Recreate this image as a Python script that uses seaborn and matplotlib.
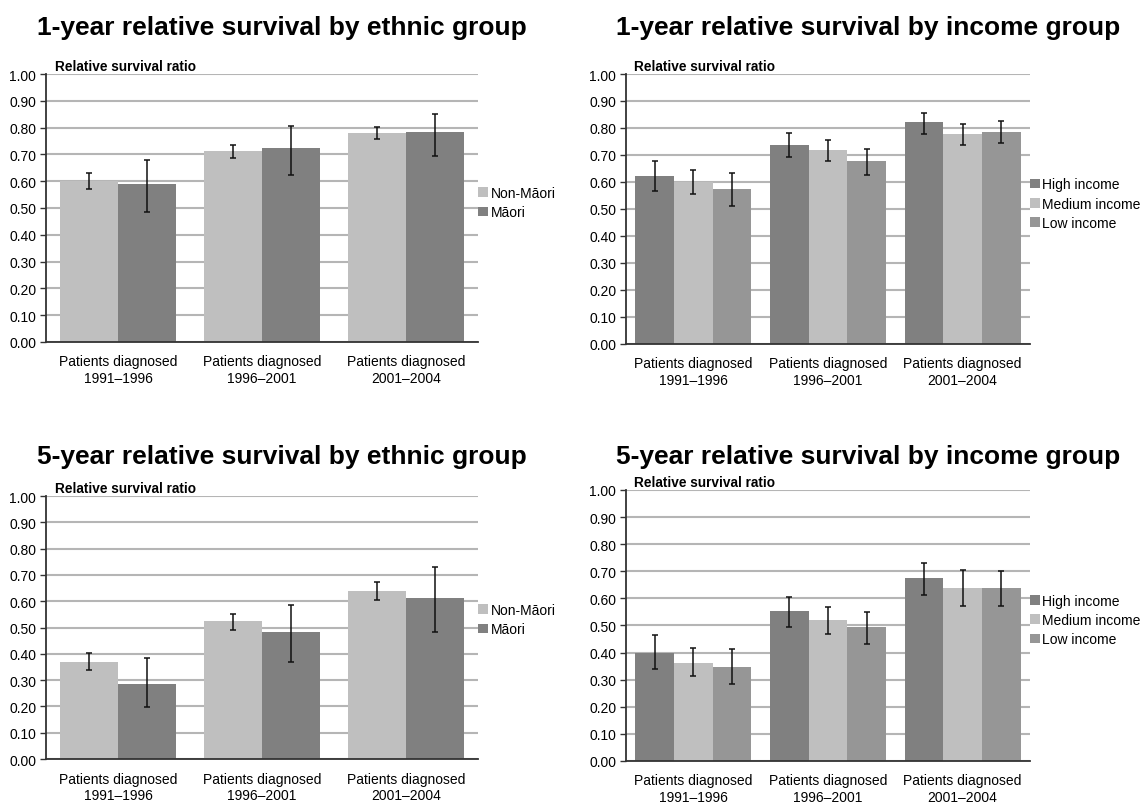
import matplotlib
matplotlib.use("Agg")
import matplotlib.pyplot as plt
import numpy as np
import pandas as pd
import seaborn as sns

# Diagnosis periods shown on the x axis
periods = ["Patients diagnosed\n1991–1996",
           "Patients diagnosed\n1996–2001",
           "Patients diagnosed\n2001–2004"]

# Ethnic groups
eth_groups = ["Non-Māori", "Māori"]
# Income groups
inc_groups = ["High income", "Medium income", "Low income"]

# 1-year relative survival by ethnic group (ratio, lower / upper 95% CI)
eth1_nonmaori = [0.600, 0.712, 0.781]
eth1_nonmaori_lo = [0.570, 0.687, 0.757]
eth1_nonmaori_hi = [0.630, 0.736, 0.801]
eth1_maori = [0.590, 0.724, 0.784]
eth1_maori_lo = [0.484, 0.623, 0.693]
eth1_maori_hi = [0.678, 0.805, 0.850]

# 1-year relative survival by income group
inc1_high = [0.623, 0.737, 0.822]
inc1_high_lo = [0.565, 0.693, 0.779]
inc1_high_hi = [0.677, 0.780, 0.857]
inc1_medium = [0.600, 0.718, 0.778]
inc1_medium_lo = [0.554, 0.677, 0.737]
inc1_medium_hi = [0.644, 0.755, 0.816]
inc1_low = [0.575, 0.678, 0.785]
inc1_low_lo = [0.510, 0.625, 0.744]
inc1_low_hi = [0.633, 0.724, 0.825]

# 5-year relative survival by ethnic group
eth5_nonmaori = [0.370, 0.523, 0.638]
eth5_nonmaori_lo = [0.339, 0.492, 0.603]
eth5_nonmaori_hi = [0.403, 0.552, 0.673]
eth5_maori = [0.287, 0.482, 0.612]
eth5_maori_lo = [0.196, 0.370, 0.482]
eth5_maori_hi = [0.383, 0.585, 0.729]

# 5-year relative survival by income group
inc5_high = [0.400, 0.552, 0.674]
inc5_high_lo = [0.339, 0.495, 0.611]
inc5_high_hi = [0.464, 0.604, 0.732]
inc5_medium = [0.363, 0.519, 0.637]
inc5_medium_lo = [0.314, 0.469, 0.570]
inc5_medium_hi = [0.416, 0.569, 0.704]
inc5_low = [0.348, 0.493, 0.637]
inc5_low_lo = [0.284, 0.432, 0.570]
inc5_low_hi = [0.412, 0.551, 0.700]

y_ticks = [0.0, 0.1, 0.2, 0.3, 0.4, 0.5, 0.6, 0.7, 0.8, 0.9, 1.0]

eth_colors = ["#bfbfbf", "#808080"]
inc_colors = ["#808080", "#bfbfbf", "#969696"]

sns.set_style("white")
plt.rcParams["font.family"] = ["Liberation Sans", "DejaVu Sans"]
plt.rcParams["text.color"] = "black"
plt.rcParams["xtick.color"] = "black"
plt.rcParams["ytick.color"] = "black"

fig = plt.figure(figsize=(11.41, 8.03), dpi=100)


def panel(rect, title, title_x, title_y, groups, colors, series,
          legend_y, bar_width):
    ax = fig.add_axes(rect)
    rows = []
    for g, (vals, lo, hi) in zip(groups, series):
        for p, v in zip(periods, vals):
            rows.append({"period": p, "ratio": v, "group": g})
    df = pd.DataFrame(rows)
    sns.barplot(data=df, x="period", y="ratio", hue="group",
                order=periods, hue_order=groups, palette=colors,
                errorbar=None, width=bar_width, saturation=1, linewidth=0,
                ax=ax)
    # confidence intervals on each bar
    for cont, (vals, lo, hi) in zip(ax.containers, series):
        xs = [b.get_x() + b.get_width() / 2 for b in cont]
        v = np.array(vals)
        err = [v - np.array(lo), np.array(hi) - v]
        ax.errorbar(xs, v, yerr=err, fmt="none", ecolor="#111111",
                    elinewidth=1.1, capsize=2, capthick=1.1, zorder=5)
    ax.set_ylim(0, 1.0)
    ax.set_xlim(-0.5, 2.5)
    ax.set_yticks(y_ticks)
    ax.set_yticklabels([f"{t:.2f}" for t in y_ticks], fontsize=10)
    ax.tick_params(axis="x", length=0, pad=9, labelsize=10)
    ax.tick_params(axis="y", length=4, width=1, color="#333333", pad=3,
                   direction="out", left=True)
    ax.yaxis.grid(True, color="#b5b5b5", linewidth=1.5)
    ax.set_axisbelow(True)
    for s in ["top", "right"]:
        ax.spines[s].set_visible(False)
    for s in ["left", "bottom"]:
        ax.spines[s].set_color("#333333")
        ax.spines[s].set_linewidth(1.3)
    ax.set_xlabel("")
    ax.set_ylabel("")
    ax.text(0.02, 1.004, "Relative survival ratio", transform=ax.transAxes,
            fontsize=9.8, fontweight="bold", ha="left", va="bottom")
    ax.legend(loc="center left", bbox_to_anchor=(1.0, legend_y),
              frameon=False, borderpad=0, borderaxespad=0,
              handlelength=0.7, handleheight=0.7, handletextpad=0.2,
              labelspacing=0.38, fontsize=10)
    fig.text(title_x, title_y, title, ha="center", va="center",
             fontsize=19, fontweight="bold")
    return ax


panel([0.0403, 0.5729, 0.3786, 0.3337],
      "1-year relative survival by ethnic group", 0.247, 0.965,
      eth_groups, eth_colors,
      [(eth1_nonmaori, eth1_nonmaori_lo, eth1_nonmaori_hi),
       (eth1_maori, eth1_maori_lo, eth1_maori_hi)], 0.52, 0.8)

panel([0.5486, 0.5704, 0.3541, 0.3362],
      "1-year relative survival by income group", 0.761, 0.965,
      inc_groups, inc_colors,
      [(inc1_high, inc1_high_lo, inc1_high_hi),
       (inc1_medium, inc1_medium_lo, inc1_medium_hi),
       (inc1_low, inc1_low_lo, inc1_low_hi)], 0.52, 0.86)

panel([0.0403, 0.0535, 0.3786, 0.3275],
      "5-year relative survival by ethnic group", 0.247, 0.431,
      eth_groups, eth_colors,
      [(eth5_nonmaori, eth5_nonmaori_lo, eth5_nonmaori_hi),
       (eth5_maori, eth5_maori_lo, eth5_maori_hi)], 0.53, 0.8)

panel([0.5486, 0.0511, 0.3541, 0.3375],
      "5-year relative survival by income group", 0.761, 0.431,
      inc_groups, inc_colors,
      [(inc5_high, inc5_high_lo, inc5_high_hi),
       (inc5_medium, inc5_medium_lo, inc5_medium_hi),
       (inc5_low, inc5_low_lo, inc5_low_hi)], 0.52, 0.86)

fig.savefig("out.png", dpi=100, facecolor="white")
